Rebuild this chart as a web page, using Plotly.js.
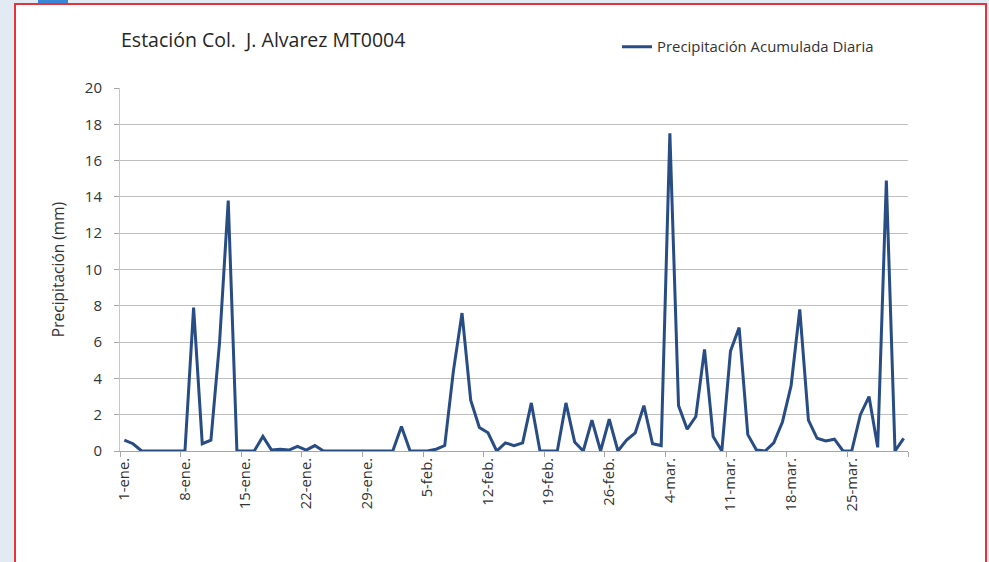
<!DOCTYPE html>
<html>
<head>
<meta charset="utf-8">
<script src="https://cdn.plot.ly/plotly-3.0.1.min.js"></script>
<style>
  html, body { margin:0; padding:0; width:989px; height:562px; overflow:hidden; background:#e2eaf4; }
  #frame { position:absolute; left:14px; top:3px; width:973px; height:600px; border:2px solid #e5333c; background:#ffffff; box-sizing:border-box; }
  #tab { position:absolute; left:38px; top:0; width:30px; height:3px; background:#3a86d6; }
  #chart { position:absolute; left:0; top:0; width:989px; height:562px; }
</style>
</head>
<body>
<div id="frame"></div>
<div id="tab"></div>
<div id="chart"></div>
<script>
// Daily accumulated precipitation (mm), 1-ene to 31-mar (leap year)
const startDate = [2012, 0, 1];
const dayCount = 91;
const precipitation = [
  0.6, 0.4, 0, 0, 0, 0, 0, 0, 7.9, 0.4,
  0.6, 6.0, 13.8, 0, 0, 0, 0.8, 0.05, 0.1, 0.05,
  0.25, 0.05, 0.3, 0, 0, 0, 0, 0, 0, 0,
  0, 0, 1.35, 0, 0, 0, 0.1, 0.3, 4.4, 7.6,
  2.8, 1.3, 1.0, 0, 0.45, 0.3, 0.45, 2.65, 0, 0,
  0, 2.65, 0.5, 0, 1.7, 0, 1.75, 0, 0.6, 1.0,
  2.5, 0.4, 0.3, 17.5, 2.5, 1.2, 1.9, 5.6, 0.8, 0,
  5.5, 6.8, 0.9, 0.05, 0, 0.45, 1.6, 3.6, 7.8, 1.7,
  0.7, 0.55, 0.65, 0, 0, 2.0, 3.0, 0.2, 14.9, 0,
  0.7
];
const tickDates = ['2012-01-01','2012-01-08','2012-01-15','2012-01-22','2012-01-29','2012-02-05',
  '2012-02-12','2012-02-19','2012-02-26','2012-03-04','2012-03-11','2012-03-18','2012-03-25'];
const tickLabels = ['1-ene.','8-ene.','15-ene.','22-ene.','29-ene.','5-feb.',
  '12-feb.','19-feb.','26-feb.','4-mar.','11-mar.','18-mar.','25-mar.'];
const yTicks = [0, 2, 4, 6, 8, 10, 12, 14, 16, 18, 20];

const dates = [];
for (let i = 0; i < dayCount; i++) {
  const d = new Date(Date.UTC(startDate[0], startDate[1], startDate[2] + i));
  dates.push(d.toISOString().slice(0, 10));
}

const FONT = '"Open Sans", "Liberation Sans", sans-serif';
const trace = {
  x: dates,
  y: precipitation,
  type: 'scatter',
  mode: 'lines',
  name: 'Precipitación Acumulada Diaria',
  line: { color: '#284c84', width: 3 },
  hoverinfo: 'skip'
};

const layout = {
  width: 989, height: 562,
  margin: { l: 120, r: 81, t: 88, b: 111 },
  paper_bgcolor: 'rgba(0,0,0,0)',
  plot_bgcolor: 'rgba(0,0,0,0)',
  font: { family: FONT, color: '#333333', size: 14 },
  title: {
    text: 'Estación Col.  J. Alvarez MT0004',
    font: { family: FONT, size: 19.5, color: '#262626' },
    xref: 'container', yref: 'container',
    x: 121 / 989, xanchor: 'left',
    y: 1 - 40 / 562, yanchor: 'middle'
  },
  showlegend: true,
  legend: {
    xref: 'container', yref: 'container',
    x: 617 / 989, xanchor: 'left',
    y: 1 - 47 / 562, yanchor: 'middle',
    orientation: 'h',
    font: { family: FONT, size: 14.9, color: '#333333' },
    bgcolor: 'rgba(0,0,0,0)'
  },
  xaxis: {
    type: 'date',
    range: ['2011-12-31 12:00', '2012-03-31 12:00'],
    tickmode: 'array',
    tickvals: tickDates,
    ticktext: tickLabels,
    tickangle: -90,
    ticks: '',
    showgrid: false,
    showline: true,
    linecolor: '#a6a6a6',
    linewidth: 1,
    zeroline: false,
    tickfont: { family: FONT, size: 14.8, color: '#333333' },
    minor: {
      ticks: 'outside', ticklen: 5, tickcolor: '#a6a6a6', tickwidth: 1,
      tick0: '2011-12-31 12:00', dtick: 7 * 86400000, showgrid: false
    },
    fixedrange: true
  },
  yaxis: {
    range: [0, 20],
    tickmode: 'array',
    tickvals: yTicks,
    ticks: 'outside', ticklen: 5, tickcolor: '#a6a6a6',
    ticklabelstandoff: 9,
    showgrid: true, gridcolor: '#bfbfbf', gridwidth: 1,
    showline: true, linecolor: '#c8c8c8', linewidth: 1,
    zeroline: false,
    tickfont: { family: FONT, size: 15, color: '#333333' },
    title: { text: 'Precipitación (mm)', font: { family: FONT, size: 15.5, color: '#333333' }, standoff: 16 },
    fixedrange: true
  }
};

Plotly.newPlot('chart', [trace], layout, { displayModeBar: false, staticPlot: true });
</script>
</body>
</html>
